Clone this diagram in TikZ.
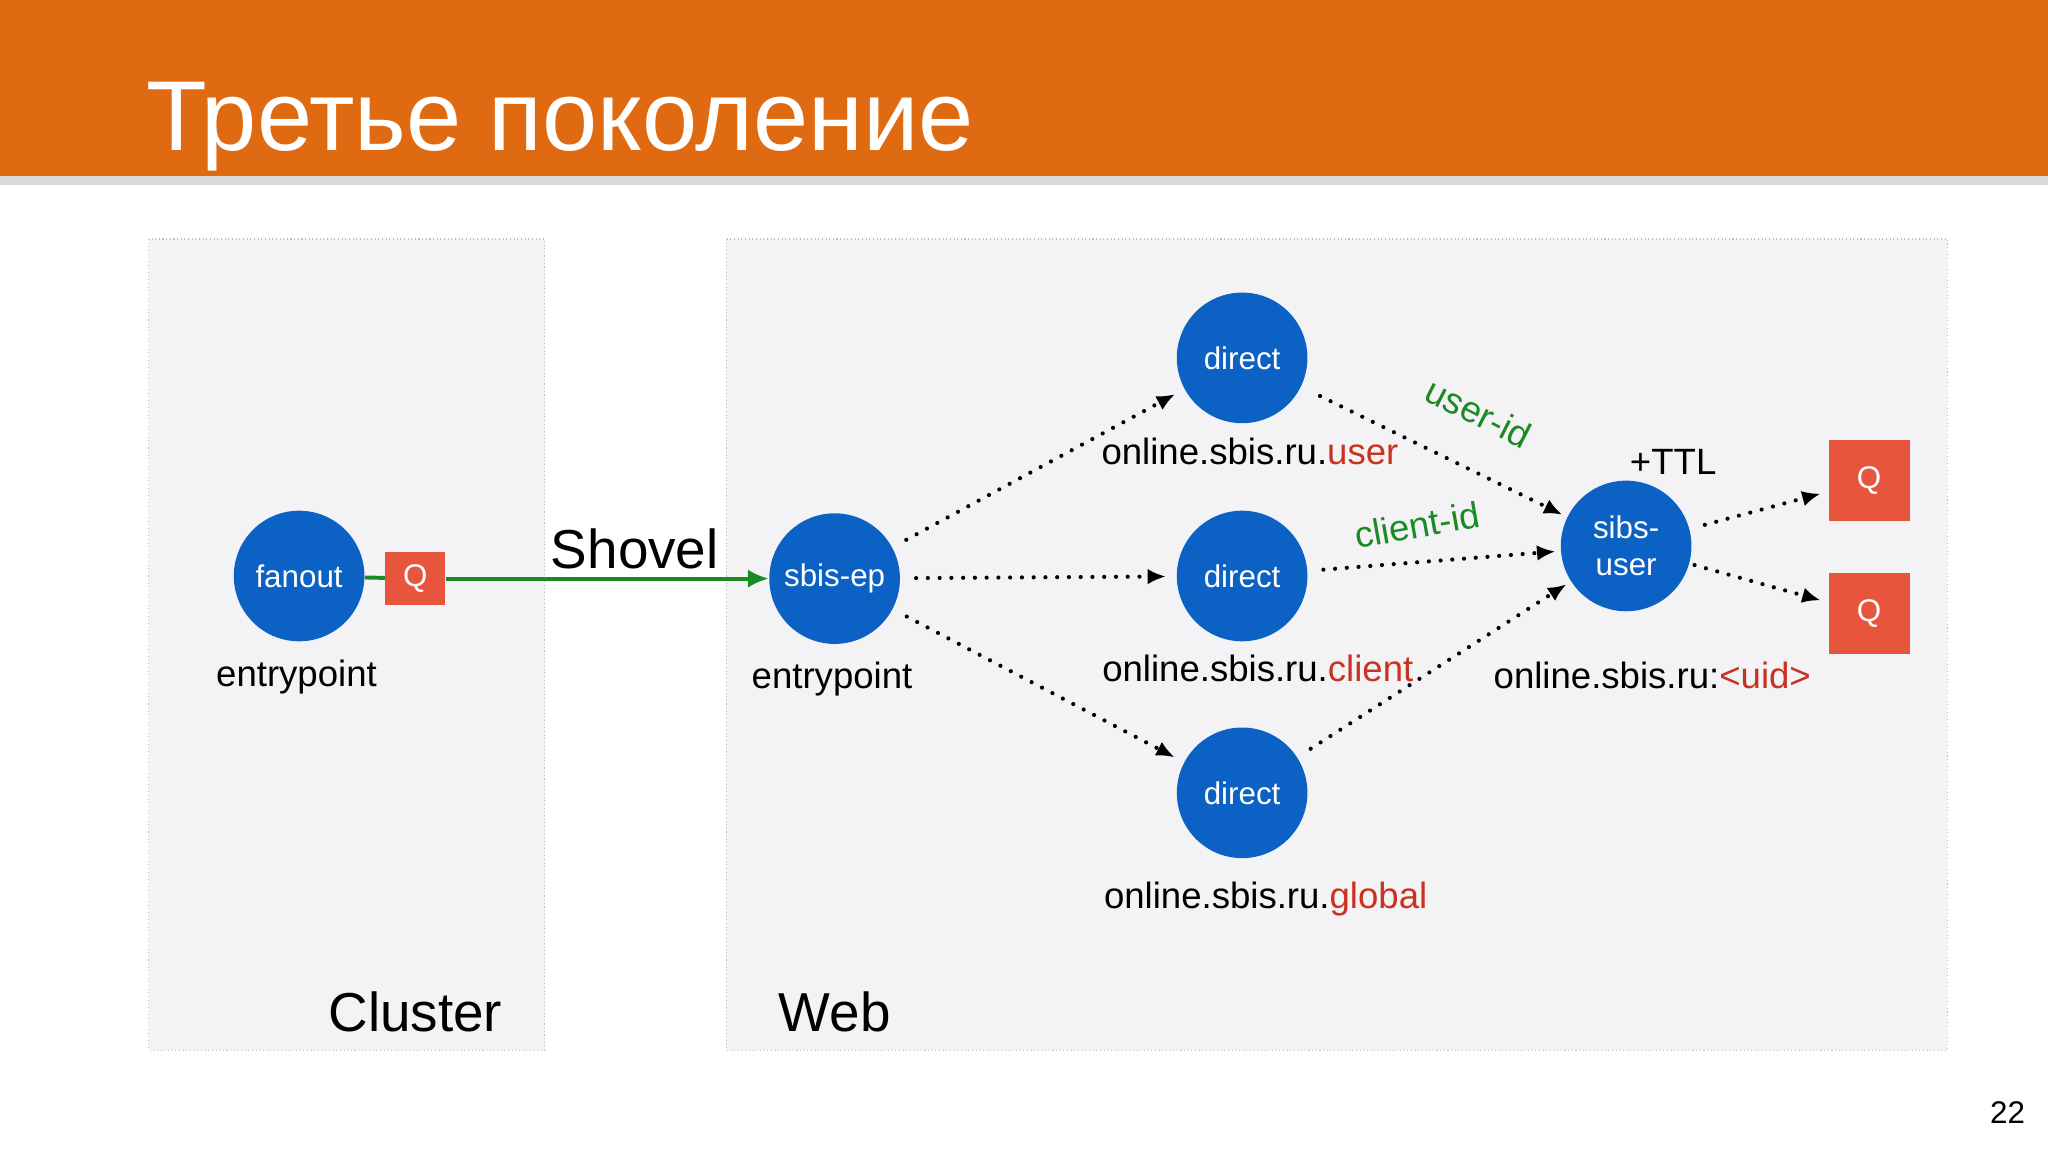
\documentclass[tikz,border=0pt]{standalone}
\usepackage{fontspec}
\setmainfont{Liberation Sans}
\usetikzlibrary{arrows.meta}
\definecolor{hdr}{HTML}{DF6A12}
\definecolor{blu}{HTML}{0B62C4}
\definecolor{qred}{HTML}{E8553D}
\definecolor{rtxt}{HTML}{C8321E}
\definecolor{grn}{HTML}{1B8A22}
\definecolor{pane}{HTML}{F3F3F5}
\tikzset{
  ex/.style={circle,fill=blu,minimum size=50pt,inner sep=0pt,text=white,font=\fontsize{12}{14}\selectfont,align=center},
  qbox/.style={fill=qred,text=white,inner sep=0pt,font=\fontsize{12}{14}\selectfont},
  lbl/.style={font=\fontsize{14}{16}\selectfont},
  pn/.style={fill=pane,draw=black!25,densely dotted},
  dar/.style={line width=1.6pt,line cap=round,dash pattern=on 0pt off 4.5pt,-{Latex[length=7pt,width=6pt]}},
  tag/.style={text=grn,font=\fontsize{14}{16}\selectfont}
}
\begin{document}
\begin{tikzpicture}[x=0.5pt,y=-0.5pt]
\useasboundingbox (0,0) rectangle (1568,882);
\fill[white] (0,0) rectangle (1568,882);
\fill[hdr] (0,0) rectangle (1568,135);
\fill[black!15] (0,135) rectangle (1568,142);
\node[anchor=base west,text=white,font=\fontsize{38}{42}\selectfont,inner sep=0pt] (title) at (112,115) {Третье поколение};
\draw[pn] (114,183) rectangle (417,804);
\draw[pn] (556,183) rectangle (1491,804);
\node[ex] (fan) at (229,441) {fanout};
\node[qbox,minimum width=23pt,minimum height=20pt] (q0) at (318,443) {Q};
\draw[grn,line width=1.5pt] (fan) -- (q0);
\node[lbl] at (227,518) {entrypoint};
\node[ex] (ep) at (639,443) {sbis-ep};
\node[lbl] at (637,520) {entrypoint};
\draw[grn,line width=1.5pt,-{Latex[length=8pt,width=7pt]}] (q0.east) -- (ep.west);
\node[font=\fontsize{21}{24}\selectfont] (shov) at (486,420) {Shovel};
\node[ex] (d1) at (951,274) {direct};
\node[ex] (d2) at (951,441) {direct};
\node[ex] (d3) at (951,607) {direct};
\node[lbl] at (957,346) {online.sbis.ru.\textcolor{rtxt}{user}};
\node[lbl] at (963,512) {online.sbis.ru.\textcolor{rtxt}{client}};
\node[lbl] at (969,688) {online.sbis.ru.\textcolor{rtxt}{global}};
\node[ex] (su) at (1245,418) {sibs-\\user};
\node[lbl] at (1281,354) {+TTL};
\node[lbl] at (1265,517) {online.sbis.ru:\textcolor{rtxt}{<uid>}};
\node[qbox,minimum size=31pt] (q1) at (1431,368) {Q};
\node[qbox,minimum size=31pt] (q2) at (1431,470) {Q};
\draw[dar,shorten <=6pt,shorten >=4pt] (ep) -- (d1);
\draw[dar,shorten <=6pt,shorten >=4pt] (ep) -- (d2);
\draw[dar,shorten <=6pt,shorten >=4pt] (ep) -- (d3);
\draw[dar,shorten <=8pt,shorten >=2pt] (d1) -- (su);
\draw[dar,shorten <=6pt,shorten >=2pt] (d2) -- (su);
\draw[dar,shorten <=6pt,shorten >=2pt] (d3) -- (su);
\draw[dar,shorten <=6pt,shorten >=3pt] (su) -- (q1);
\draw[dar,shorten <=2pt,shorten >=3pt] (su) -- (q2);
\node[tag,rotate=-27] at (1132,316) {user-id};
\node[tag,rotate=10] at (1085,402) {client-id};
\node[font=\fontsize{21}{24}\selectfont] at (318,775) {Cluster};
\node[font=\fontsize{21}{24}\selectfont] at (639,775) {Web};
\node[font=\fontsize{12}{14}\selectfont] at (1537,852) {22};
\end{tikzpicture}
\end{document}
